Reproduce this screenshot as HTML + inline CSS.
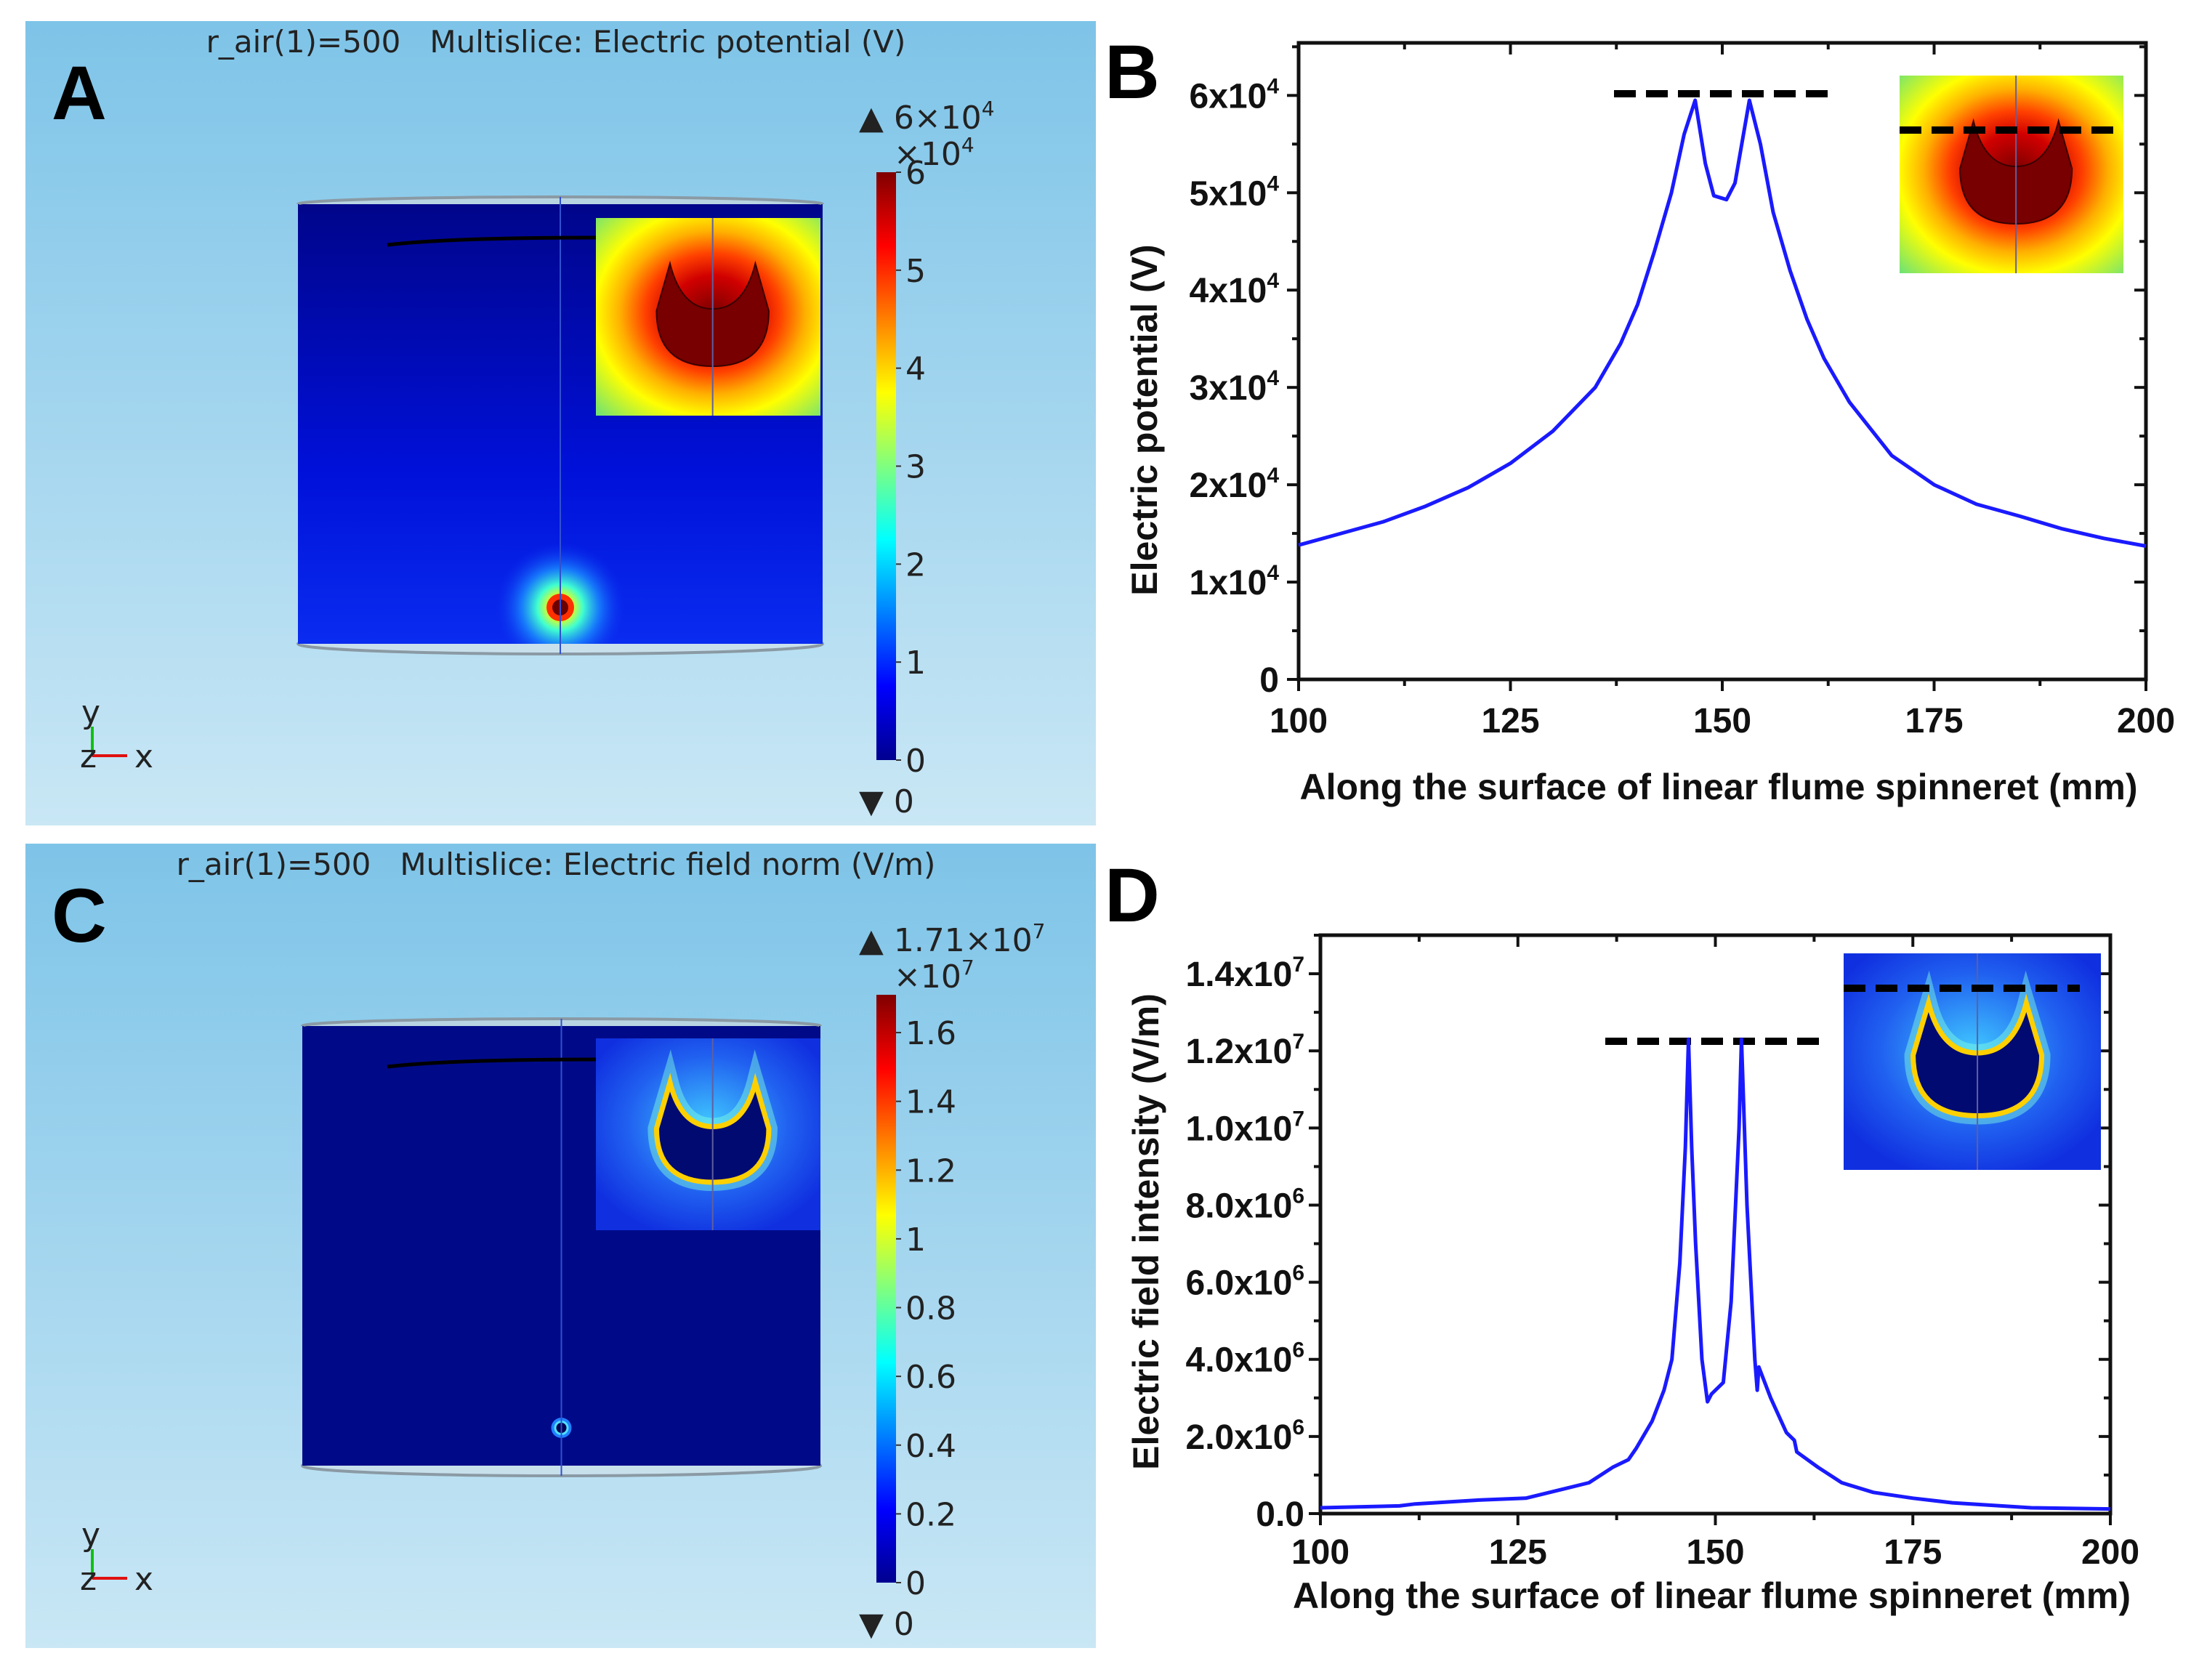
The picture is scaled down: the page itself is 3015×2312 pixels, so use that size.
<!DOCTYPE html>
<html><head><meta charset="utf-8"><style>
html,body{margin:0;padding:0;background:#fff;}
svg{display:block;}
.cm{font-family:"DejaVu Sans","Liberation Sans",sans-serif;fill:#222;}
.ax{font-family:"Liberation Sans",sans-serif;font-weight:bold;fill:#111;}
</style></head><body>
<svg id="fig" width="3015" height="2312" viewBox="0 0 3015 2312" xmlns="http://www.w3.org/2000/svg">
<defs>
<linearGradient id="bgA" x1="0" y1="0" x2="0" y2="1"><stop offset="0" stop-color="#7ec4e8"/><stop offset="1" stop-color="#c9e7f5"/></linearGradient>
<linearGradient id="jet" x1="0" y1="1" x2="0" y2="0">
<stop offset="0" stop-color="#00008f"/><stop offset="0.125" stop-color="#0000ff"/><stop offset="0.375" stop-color="#00ffff"/><stop offset="0.625" stop-color="#ffff00"/><stop offset="0.875" stop-color="#ff0000"/><stop offset="1" stop-color="#800000"/></linearGradient>
<linearGradient id="cylA" x1="0" y1="0" x2="0" y2="1"><stop offset="0" stop-color="#00058a"/><stop offset="0.6" stop-color="#0010d8"/><stop offset="1" stop-color="#0a2cf0"/></linearGradient>
<radialGradient id="glowA" cx="0.5" cy="0.5" r="0.5"><stop offset="0" stop-color="#ff2000"/><stop offset="0.15" stop-color="#ffff00"/><stop offset="0.35" stop-color="#40ffd0"/><stop offset="0.6" stop-color="#1a8cff" stop-opacity="0.8"/><stop offset="1" stop-color="#0a2cf0" stop-opacity="0"/></radialGradient>
<radialGradient id="insA" cx="0.52" cy="0.48" r="0.75"><stop offset="0" stop-color="#7a0000"/><stop offset="0.25" stop-color="#d00000"/><stop offset="0.4" stop-color="#ff4000"/><stop offset="0.55" stop-color="#ffb000"/><stop offset="0.7" stop-color="#ffff00"/><stop offset="1" stop-color="#60e080"/></radialGradient>
<radialGradient id="insC" cx="0.5" cy="0.45" r="0.6"><stop offset="0" stop-color="#40c8ff"/><stop offset="0.6" stop-color="#2060f0"/><stop offset="1" stop-color="#1030e0"/></radialGradient>
<clipPath id="clipA"><rect x="410" y="281" width="722" height="605"/></clipPath>
</defs>
<g id="root"></g>
</svg>
<script>
// ---------- chart B data (electric potential) ----------
const potX = [100,105,110,115,120,125,130,135,138,140,142,144,145.5,146.8,148,149,150.5,151.5,153.2,154.5,156,158,160,162,165,170,175,180,185,190,195,200];
const potV = [1.38,1.5,1.62,1.78,1.97,2.22,2.55,3.0,3.45,3.85,4.4,5.0,5.6,5.95,5.3,4.97,4.93,5.1,5.95,5.5,4.8,4.2,3.7,3.3,2.85,2.3,2.0,1.8,1.68,1.55,1.45,1.37].map(v=>v*1e4);
const potYTicks = [0,1e4,2e4,3e4,4e4,5e4,6e4];
const potYLabels = [["0",""],["1x10","4"],["2x10","4"],["3x10","4"],["4x10","4"],["5x10","4"],["6x10","4"]];
// ---------- chart D data (field intensity) ----------
const fieldX = [100,110,112,120,126,130,134,137,139,140,142,143.5,144.5,145.5,146.2,146.6,147,147.5,148.3,149,149.5,151,152,153,153.3,154,155,155.3,155.5,157,159,160,160.3,163,166,170,175,180,190,200];
const fieldV = [0.15,0.2,0.25,0.35,0.4,0.6,0.8,1.2,1.4,1.7,2.4,3.2,4.0,6.5,9.5,12.3,9.5,7,4,2.9,3.1,3.4,5.5,10,12.3,8,4,3.2,3.8,3,2.1,1.9,1.6,1.2,0.8,0.55,0.4,0.28,0.15,0.12].map(v=>v*1e6);
const fieldYTicks = [0,2e6,4e6,6e6,8e6,1e7,1.2e7,1.4e7];
const fieldYLabels = [["0.0",""],["2.0x10","6"],["4.0x10","6"],["6.0x10","6"],["8.0x10","6"],["1.0x10","7"],["1.2x10","7"],["1.4x10","7"]];
const xTicks = [100,125,150,175,200];
// ---------- colorbar labels ----------
const cbALabels = ["0","1","2","3","4","5","6"];
const cbCLabels = ["0","0.2","0.4","0.6","0.8","1","1.2","1.4","1.6"];

const NS="http://www.w3.org/2000/svg";
const root=document.getElementById('root');
function mk(tag,attrs,parent,text){const e=document.createElementNS(NS,tag);for(const k in attrs)e.setAttribute(k,attrs[k]);if(text!==undefined)e.textContent=text;(parent||root).appendChild(e);return e;}

function comsolPanel(oy, letter, title, cylTop, cylBot, cylX0, cylX1, inset, isA){
  const g=mk('g',{});
  
  
  mk('rect',{x:35,y:oy,width:1473,height:1107,fill:'url(#bgA)'},g);
  const lt=mk('text',{x:71,y:oy+135,'font-size':105,'font-weight':'bold','font-family':'Liberation Sans,sans-serif',fill:'#000'},g,letter);
  
  
  const tt=mk('text',{x:765,y:oy+43,'font-size':42,'text-anchor':'middle',class:'cm'},g,title);
  
  
  const cx=(cylX0+cylX1)/2, rx=(cylX1-cylX0)/2;
  mk('ellipse',{cx:cx,cy:cylBot,rx:rx,ry:14,fill:'#c8e0ec',stroke:'#8a9aa4','stroke-width':4},g);
  const cyl=mk('rect',{x:cylX0,y:cylTop,width:cylX1-cylX0,height:cylBot-cylTop,fill:isA?'url(#cylA)':'#000a88'},g);
  
  
  mk('path',{d:`M${cylX0},${cylTop} A${rx},10 0 0 1 ${cylX1},${cylTop}`,fill:'#b8d4e2',stroke:'#8a9aa4','stroke-width':4},g);
  const dotY=cylBot-(isA?50:52);
  if(isA){const cg=mk('g',{'clip-path':'url(#clipA)'},g);mk('circle',{cx:cx,cy:dotY,r:90,fill:'url(#glowA)'},cg);mk('circle',{cx:cx,cy:dotY,r:19,fill:'#ff3000'},g);mk('circle',{cx:cx,cy:dotY,r:11,fill:'#6a0000'},g);}
  else{mk('circle',{cx:cx,cy:dotY,r:14,fill:'#2080ff'},g);mk('circle',{cx:cx,cy:dotY,r:10,fill:'#50e0ff'},g);mk('circle',{cx:cx,cy:dotY,r:7,fill:'#000050'},g);}
  mk('line',{x1:cx,y1:cylTop-10,x2:cx,y2:cylBot+14,stroke:'#3050d0','stroke-width':2},g);
  mk('path',{d:`M533,${cylTop+56} Q620,${cylTop+46} 820,${cylTop+46}`,fill:'none',stroke:'#000','stroke-width':5},g);
  const [ix,iy,iw,ih]=inset;
  const ins=mk('rect',{x:ix,y:iy,width:iw,height:ih,fill:isA?'url(#insA)':'url(#insC)'},g);
  
  
  drawShape(g,ix,iy,iw,ih,isA);
  mk('line',{x1:ix+iw*0.52,y1:iy,x2:ix+iw*0.52,y2:iy+ih,stroke:'#6060a0','stroke-width':2},g);
  const cbTop=oy+208, cbBot=oy+1017;
  const cb=mk('rect',{x:1206,y:cbTop,width:27,height:cbBot-cbTop,fill:'url(#jet)'},g);
  
  
  const labs=isA?cbALabels:cbCLabels;
  const maxv=isA?6:1.71;
  labs.forEach((l)=>{const v=parseFloat(l);const y=cbBot-(cbBot-cbTop)*v/maxv;
    mk('line',{x1:1233,y1:y,x2:1240,y2:y,stroke:'#333','stroke-width':2},g);
    const t=mk('text',{x:1246,y:y+16,'font-size':44,class:'cm'},g,l);
    
    });
  const maxTxt=isA?['6×10','4']:['1.71×10','7'];
  const t1=mk('text',{x:1182,y:cbTop-60,'font-size':44,class:'cm'},g,'▲ '+maxTxt[0]);
  mk('tspan',{'font-size':28,dy:-18},t1,maxTxt[1]);
  
  
  const t2=mk('text',{x:1230,y:cbTop-10,'font-size':44,class:'cm'},g,'×10');
  mk('tspan',{'font-size':28,dy:-18},t2,isA?'4':'7');
  
  
  const t3=mk('text',{x:1182,y:cbBot+72,'font-size':44,class:'cm'},g,'▼ 0');
  
  
  const ty=oy+1011;
  const tr=mk('g',{},g);
  
  
  mk('line',{x1:127,y1:ty,x2:127,y2:ty-40,stroke:'#10c010','stroke-width':4},tr);
  mk('line',{x1:127,y1:ty,x2:175,y2:ty,stroke:'#e01010','stroke-width':4},tr);
  mk('text',{x:112,y:ty-45,'font-size':44,class:'cm'},tr,'y');
  mk('text',{x:110,y:ty+16,'font-size':44,class:'cm'},tr,'z');
  mk('text',{x:185,y:ty+16,'font-size':44,class:'cm'},tr,'x');
}
function drawShape(g,ix,iy,iw,ih,hot){
  const p=(a,b)=>`${ix+a*iw},${iy+b*ih}`;
  const d=`M${p(0.33,0.23)} L${p(0.27,0.47)} Q${p(0.27,0.75)} ${p(0.52,0.75)} Q${p(0.77,0.75)} ${p(0.77,0.47)} L${p(0.71,0.23)} Q${p(0.66,0.46)} ${p(0.52,0.46)} Q${p(0.38,0.46)} ${p(0.33,0.23)} Z`;
  if(hot){mk('path',{d:d,fill:'#780000',stroke:'#3a0000','stroke-width':2},g);}
  else{mk('path',{d:d,fill:'none',stroke:'#80ffe0','stroke-width':24,'stroke-opacity':0.45},g);
       mk('path',{d:d,fill:'#000a70',stroke:'#ffd000','stroke-width':7},g);}
}
comsolPanel(29,'A','r_air(1)=500\u00a0\u00a0\u00a0Multislice: Electric potential (V)',281,886,410,1132,[820,300,309,272],true);
comsolPanel(1161,'C','r_air(1)=500\u00a0\u00a0\u00a0Multislice: Electric field norm (V/m)',1412,2017,416,1129,[820,1429,309,264],false);

function lineChart(cfg){
  const {x0,x1,yT,yB,ymax,xs,ys,ticks,labels,letter,ylab,labX,labY,tickLabX,xTickY,xLabY,inset,insetDash,mainDash,hot}=cfg;
  const g=mk('g',{});
  
  
  const sx=v=>x0+(v-100)/100*(x1-x0);
  const sy=v=>yB-v/ymax*(yB-yT);
  const lt=mk('text',{x:1520,y:cfg.letterY,'font-size':105,'font-weight':'bold','font-family':'Liberation Sans,sans-serif',fill:'#000'},g,letter);
  
  
  for(let i=0;i<=8;i++){const v=100+i*12.5;const X=sx(v);const L=i%2===0?16:9;
    mk('line',{x1:X,y1:yB,x2:X,y2:yB+L,stroke:'#111','stroke-width':4},g);
    mk('line',{x1:X,y1:yT,x2:X,y2:yT+L,stroke:'#111','stroke-width':4},g);}
  const step=ticks[1]-ticks[0];
  for(let v=0;v<=ymax;v+=step/2){const Y=sy(v);const major=Math.abs((v/step)-Math.round(v/step))<1e-6;const L=major?16:9;
    mk('line',{x1:x0-L,y1:Y,x2:x0,y2:Y,stroke:'#111','stroke-width':4},g);
    mk('line',{x1:x1-L,y1:Y,x2:x1,y2:Y,stroke:'#111','stroke-width':4},g);}
  const frame=mk('rect',{x:x0,y:yT,width:x1-x0,height:yB-yT,fill:'none',stroke:'#111','stroke-width':5},g);
  
  
  ticks.forEach((v,i)=>{const t=mk('text',{x:tickLabX,y:sy(v)+17,'font-size':48,'text-anchor':'end',class:'ax'},g,labels[i][0]);
    if(labels[i][1])mk('tspan',{'font-size':30,dy:-20},t,labels[i][1]);
    
    });
  xTicks.forEach(v=>{const t=mk('text',{x:sx(v),y:xTickY,'font-size':48,'text-anchor':'middle',class:'ax'},g,String(v));
    
    });
  const yl=mk('text',{x:0,y:0,'font-size':50,'text-anchor':'middle',class:'ax',transform:`translate(${labX},${labY}) rotate(-90)`},g,ylab);
  
  
  const xl=mk('text',{x:(x0+x1)/2+cfg.xLabDx,y:xLabY,'font-size':50,'text-anchor':'middle',class:'ax'},g,'Along the surface of linear flume spinneret (mm)');
  
  
  const [ix,iy,iw,ih]=inset;
  const ins=mk('rect',{x:ix,y:iy,width:iw,height:ih,fill:hot?'url(#insA)':'url(#insC)'},g);
  
  
  drawShape(g,ix,iy,iw,ih,hot);
  mk('line',{x1:ix+iw*0.52,y1:iy,x2:ix+iw*0.52,y2:iy+ih,stroke:'#6060a0','stroke-width':2},g);
  const d1=mk('line',{x1:insetDash[0],y1:insetDash[2],x2:insetDash[1],y2:insetDash[2],stroke:'#000','stroke-width':10,'stroke-dasharray':'30,14'},g);
  
  
  const d2=mk('line',{x1:mainDash[0],y1:mainDash[2],x2:mainDash[1],y2:mainDash[2],stroke:'#000','stroke-width':10,'stroke-dasharray':'30,14'},g);
  
  
  const pts=xs.map((x,i)=>`${sx(x).toFixed(1)},${sy(ys[i]).toFixed(1)}`).join(' ');
  const ln=mk('polyline',{points:pts,fill:'none',stroke:'#1a1aff','stroke-width':5,'stroke-linejoin':'round'},g);
  
  
}
lineChart({x0:1787,x1:2953,yT:59,yB:935,ymax:65400,xs:potX,ys:potV,ticks:potYTicks,labels:potYLabels,letter:'B',letterY:135,
  ylab:'Electric potential (V)',labX:1592,labY:578,tickLabX:1760,xTickY:1008,xLabY:1100,xLabDx:-5,
  inset:[2614,104,308,272],insetDash:[2614,2922,179],mainDash:[2221,2529,129],hot:true});
lineChart({x0:1817,x1:2904,yT:1287,yB:2083,ymax:1.5e7,xs:fieldX,ys:fieldV,ticks:fieldYTicks,labels:fieldYLabels,letter:'D',letterY:1268,
  ylab:'Electric field intensity (V/m)',labX:1594,labY:1695,tickLabX:1795,xTickY:2152,xLabY:2213,xLabDx:-5,
  inset:[2537,1312,354,298],insetDash:[2537,2862,1360],mainDash:[2209,2517,1433],hot:false});
</script>
</body></html>
